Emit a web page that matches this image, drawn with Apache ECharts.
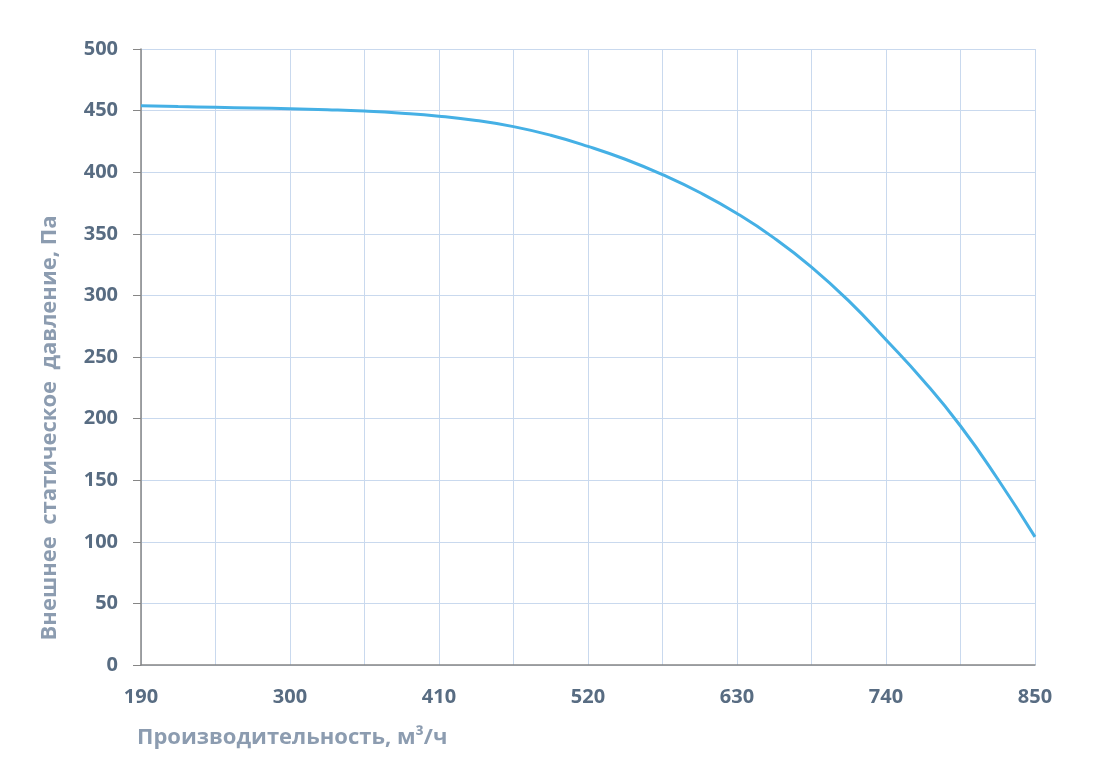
<!DOCTYPE html>
<html>
<head>
<meta charset="utf-8">
<script src="https://cdn.jsdelivr.net/npm/echarts@6/dist/echarts.min.js"></script>
<style>
html,body{margin:0;padding:0;background:#fff;}
#main{width:1099px;height:761px;}
</style>
</head>
<body>
<div id="main"></div>
<script>
const flowValues = [190, 217.5, 245, 272.5, 300, 327.5, 355, 382.5, 410, 437.5, 465, 492.5, 520, 547.5, 575, 602.5, 630, 657.5, 685, 712.5, 740, 767.5, 795, 822.5, 850];
const pressureValues = [454, 453.3, 452.7, 452.1, 451.5, 450.7, 449.6, 447.9, 445.5, 442, 437, 430, 421, 410.5, 398, 383.5, 366.5, 346.5, 323, 295.5, 264, 231, 194, 151, 104];
const xAxisName = 'Производительность, м³/ч';
const yAxisName = 'Внешнее  статическое  давление, Па';

const chart = echarts.init(document.getElementById('main'), null, {renderer: 'canvas'});
const labelColor = '#586c82';
const nameColor = '#8c9cb0';
const gridColor = '#c9d9ee';
const fontFamily = '"Open Sans", "Noto Sans", sans-serif';

chart.setOption({
  animation: false,
  grid: {left: 141, right: 64, top: 49, bottom: 96, containLabel: false},
  xAxis: {
    type: 'value', min: 190, max: 850, interval: 55,
    axisLine: {show: true, lineStyle: {color: '#868686', width: 1.5}},
    axisTick: {show: false},
    splitLine: {show: true, lineStyle: {color: gridColor, width: 1}},
    axisLabel: {
      margin: 22, color: labelColor, fontSize: 20, fontWeight: 'bold', fontFamily: fontFamily,
      formatter: function (v) { return ((v - 190) % 110 === 0) ? String(v) : ''; }
    }
  },
  yAxis: {
    type: 'value', min: 0, max: 500, interval: 50,
    axisLine: {show: true, lineStyle: {color: '#868686', width: 1.5}},
    axisTick: {show: true, inside: false, length: 8, lineStyle: {color: '#868686'}},
    splitLine: {show: true, lineStyle: {color: gridColor, width: 1}},
    axisLabel: {margin: 23, color: labelColor, fontSize: 20, fontWeight: 'bold', fontFamily: fontFamily}
  },
  graphic: [
    {type: 'text', left: 137, top: 727, style: {text: xAxisName, fill: nameColor, font: 'bold 22px ' + fontFamily}},
    {type: 'text', x: 50, y: 428, rotation: Math.PI / 2,
     style: {text: yAxisName, fill: nameColor, font: 'bold 22px ' + fontFamily, textAlign: 'center', textVerticalAlign: 'middle'}}
  ],
  series: [{
    type: 'line', smooth: 0.5, showSymbol: false,
    lineStyle: {color: '#45b0e5', width: 3},
    data: flowValues.map((x, i) => [x, pressureValues[i]])
  }]
});
</script>
</body>
</html>
